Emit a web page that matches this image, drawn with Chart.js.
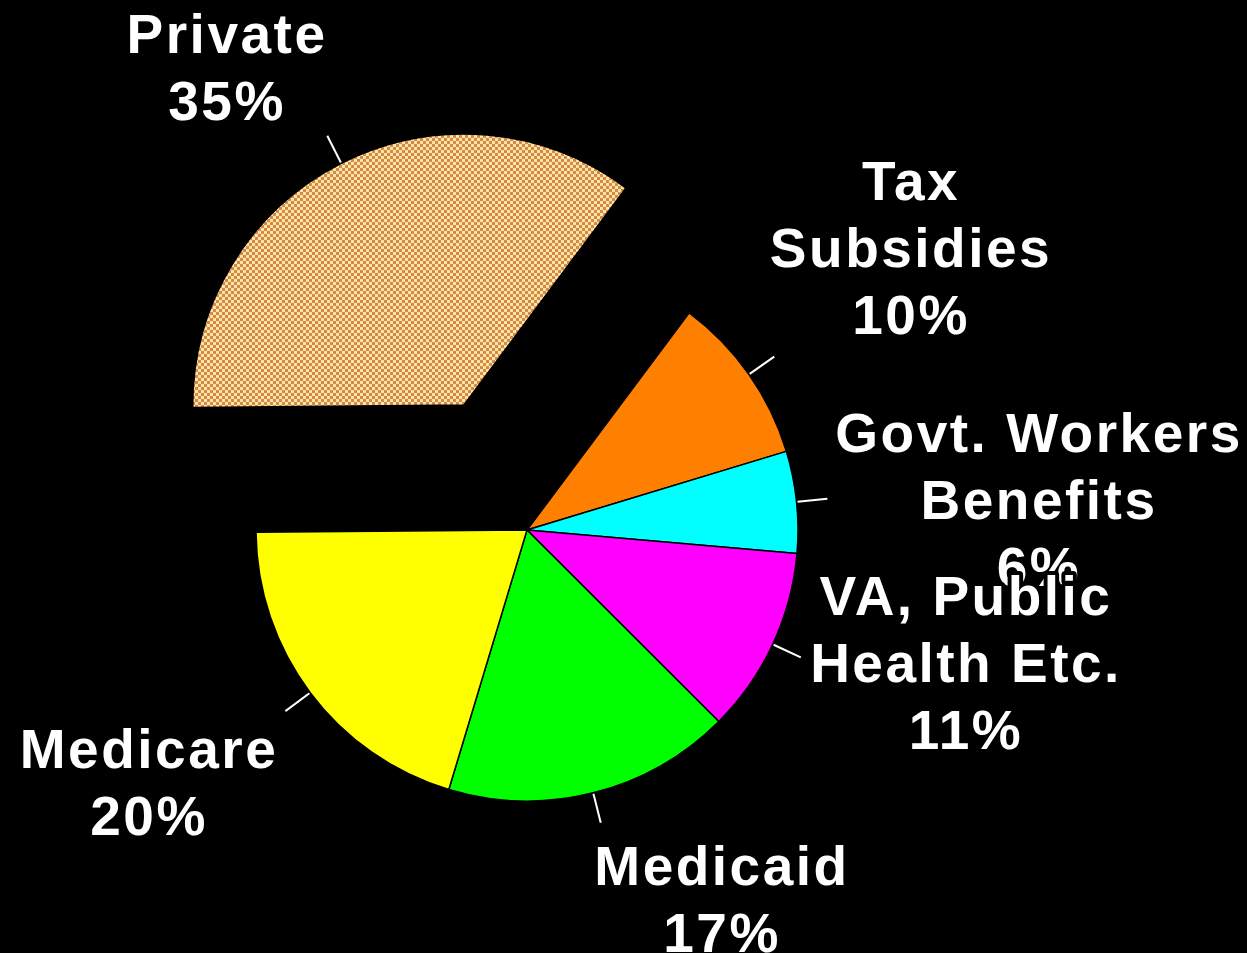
<!DOCTYPE html>
<html>
<head>
<meta charset="utf-8">
<title>Health Care Funding Sources</title>
<script src="https://cdn.jsdelivr.net/npm/chart.js@4.4.1/dist/chart.umd.min.js"></script>
<style>
  html, body { margin: 0; padding: 0; background: #000; }
  #wrap { width: 1247px; height: 953px; position: relative; }
</style>
</head>
<body>
<div id="wrap"><canvas id="fundingChart"></canvas></div>
<script>
// Funding sources, clockwise starting from the left edge
const sources = [['Private'], ['Tax', 'Subsidies'], ['Govt. Workers', 'Benefits'], ['VA, Public', 'Health Etc.'], ['Medicaid'], ['Medicare']];
const shares = [35, 10, 6, 11, 17, 20];
const sliceColors = ['#ff8000', '#00ffff', '#ff00ff', '#00ff00', '#ffff00'];

// label block placement, relative to the pie centre (x centre, first baseline)
const labelOffsets = [[-301, -477], [383, -330], [511, -78], [438, 85], [194, 355], [-379, 238]];
const explodeDist = 140;
const pieRadius = 271;
const lineGap = 67;
const leaderLen = 31;

const canvas = document.getElementById('fundingChart');

// checkered fill for the private slice
function checkerPattern() {
    const tile = document.createElement('canvas');
    tile.width = 6;
    tile.height = 6;
    const g = tile.getContext('2d');
    g.fillStyle = '#fde6a4';
    g.fillRect(0, 0, 6, 6);
    g.fillStyle = '#d4884a';
    g.fillRect(0, 0, 3, 3);
    g.fillRect(3, 3, 3, 3);
    return canvas.getContext('2d').createPattern(tile, 'repeat');
}

// pull the first slice out along its middle angle
const explodePlugin = {
    id: 'explode',
    afterDatasetsUpdate(chart) {
        const arc = chart.getDatasetMeta(0).data[0];
        const mid = (arc.startAngle + arc.endAngle) / 2;
        arc.x += Math.cos(mid) * explodeDist;
        arc.y += Math.sin(mid) * explodeDist;
    }
};

// leader lines and the white labels around the pie
const labelPlugin = {
    id: 'sliceLabels',
    afterDatasetsDraw(chart) {
        const ctx = chart.ctx;
        const arcs = chart.getDatasetMeta(0).data;
        const cx = arcs[1].x, cy = arcs[1].y;
        ctx.save();
        ctx.strokeStyle = '#fff';
        ctx.lineWidth = 2;
        arcs.forEach(arc => {
            const mid = (arc.startAngle + arc.endAngle) / 2;
            const r = arc.outerRadius;
            ctx.beginPath();
            ctx.moveTo(arc.x + Math.cos(mid) * (r + 1), arc.y + Math.sin(mid) * (r + 1));
            ctx.lineTo(arc.x + Math.cos(mid) * (r + leaderLen), arc.y + Math.sin(mid) * (r + leaderLen));
            ctx.stroke();
        });

        ctx.font = 'bold 55px "Liberation Sans", Arial, sans-serif';
        ctx.letterSpacing = '2.5px';
        ctx.textAlign = 'center';
        ctx.textBaseline = 'alphabetic';
        ctx.lineJoin = 'round';
        sources.forEach((lines, i) => {
            const [dx, dy] = labelOffsets[i];
            const rows = lines.concat(shares[i] + '%');
            rows.forEach((text, k) => {
                const x = cx + dx + 1;
                const y = cy + dy + k * lineGap;
                if (i === 3) {
                    // VA label sits on top of the 6% line
                    ctx.strokeStyle = '#000';
                    ctx.lineWidth = 8;
                    ctx.strokeText(text, x, y);
                }
                ctx.fillStyle = '#fff';
                ctx.fillText(text, x, y);
            });
        });
        ctx.restore();
    }
};

new Chart(canvas, {
    type: 'pie',
    data: {
        labels: sources,
        datasets: [{
            data: shares,
            backgroundColor: [checkerPattern()].concat(sliceColors),
            borderColor: '#000',
            borderWidth: 1.5,
            radius: pieRadius
        }]
    },
    options: {
        responsive: true,
        maintainAspectRatio: false,
        animation: false,
        events: [],
        rotation: 269.5,
        layout: { padding: { left: 0, right: 193, top: 107, bottom: 0 } },
        plugins: {
            legend: { display: false },
            tooltip: { enabled: false }
        }
    },
    plugins: [explodePlugin, labelPlugin]
});
</script>
</body>
</html>
